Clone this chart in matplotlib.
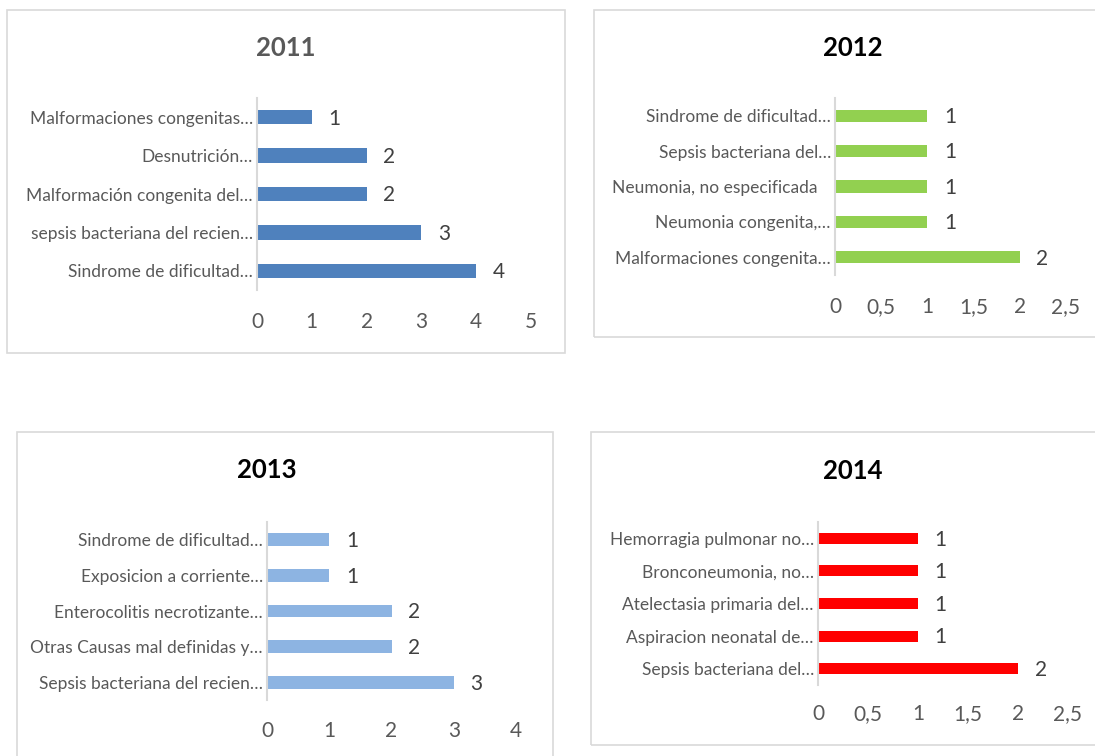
import matplotlib
matplotlib.use("Agg")
import matplotlib.pyplot as plt
from matplotlib.patches import Rectangle

plt.rcParams['font.family'] = ['Lato', 'DejaVu Sans']

W, H = 1095, 756

# ---- data (top to bottom as shown) ----
years = ["2011", "2012", "2013", "2014"]
labels_2011 = ["Malformaciones congenitas…", "Desnutrición…", "Malformación congenita del…",
               "sepsis bacteriana del recien…", "Sindrome de dificultad…"]
values_2011 = [1, 2, 2, 3, 4]
labels_2012 = ["Sindrome de dificultad…", "Sepsis bacteriana del…", "Neumonia, no especificada   ",
               "Neumonia congenita,…", "Malformaciones congenita…"]
values_2012 = [1, 1, 1, 1, 2]
labels_2013 = ["Sindrome de dificultad…", "Exposicion a corriente…", "Enterocolitis necrotizante…",
               "Otras Causas mal definidas y…", "Sepsis bacteriana del recien…"]
values_2013 = [1, 1, 2, 2, 3]
labels_2014 = ["Hemorragia pulmonar no…", "Bronconeumonia, no…", "Atelectasia primaria del…",
               "Aspiracion neonatal de…", "Sepsis bacteriana del…"]
values_2014 = [1, 1, 1, 1, 2]
ticks_2011 = [0, 1, 2, 3, 4, 5]
ticks_2012 = [0, 0.5, 1, 1.5, 2, 2.5]
ticks_2013 = [0, 1, 2, 3, 4]
ticks_2014 = [0, 0.5, 1, 1.5, 2, 2.5]

fig = plt.figure(figsize=(W / 100, H / 100), dpi=100)
fig.patch.set_facecolor("white")


def fx(px):
    return px / W


def fy(py):
    return 1 - py / H


def box(x0, y0, x1, y1):
    fig.patches.append(Rectangle((fx(x0), fy(y1)), fx(x1) - fx(x0), fy(y0) - fy(y1),
                                 transform=fig.transFigure, fill=False,
                                 edgecolor="#D9D9D9", linewidth=1.2))


def fmt(v):
    s = ("%g" % v).replace(".", ",")
    return s


def panel(labels, values, ticks, color, ax_px, box_px, title, title_xy, title_color,
          bar_h, tick_pad):
    box(*box_px)
    x0, y0, x1, y1 = ax_px
    ax = fig.add_axes([fx(x0), fy(y1), fx(x1) - fx(x0), fy(y0) - fy(y1)])
    ax.set_facecolor("none")
    n = len(labels)
    ypos = list(range(n))
    ax.barh(ypos, values, height=bar_h, color=color, zorder=2)
    ax.set_ylim(n - 0.5, -0.5)
    ax.set_xlim(ticks[0], ticks[-1])
    ax.set_yticks(ypos)
    ax.set_yticklabels(labels, fontsize=12.5, color="#595959")
    ax.set_xticks(ticks)
    ax.set_xticklabels([fmt(t) for t in ticks], fontsize=15, color="#595959")
    ax.tick_params(axis="both", length=0)
    ax.tick_params(axis="x", pad=tick_pad)
    ax.tick_params(axis="y", pad=3)
    for s in ["top", "right", "bottom"]:
        ax.spines[s].set_visible(False)
    ax.spines["left"].set_color("#D9D9D9")
    ax.spines["left"].set_linewidth(1.5)
    for yv, v in zip(ypos, values):
        ax.annotate(fmt(v), (v, yv), xytext=(12, -1), textcoords="offset points",
                    ha="left", va="center", fontsize=15, color="#404040")
    fig.text(fx(title_xy[0]), fy(title_xy[1]), title, ha="center", va="center",
             fontsize=18.5, fontweight="bold", color=title_color)
    return ax


panel(labels_2011, values_2011, ticks_2011, "#4F81BD", (257, 98, 531, 290),
      (7, 10, 565, 353), years[0], (286, 48), "#595959", 0.37, 16)
panel(labels_2012, values_2012, ticks_2012, "#92D050", (835, 98, 1066, 275),
      (594, 10, 1100, 337), years[1], (853, 48), "#000000", 0.35, 16)
panel(labels_2013, values_2013, ticks_2013, "#8DB4E2", (267, 522, 516, 700),
      (17, 432, 553, 760), years[2], (267, 470), "#000000", 0.36, 15)
panel(labels_2014, values_2014, ticks_2014, "#FF0000", (818, 522, 1068, 685),
      (591, 432, 1100, 745), years[3], (853, 471), "#000000", 0.34, 14)

fig.savefig("out.png", dpi=100, facecolor="white")
